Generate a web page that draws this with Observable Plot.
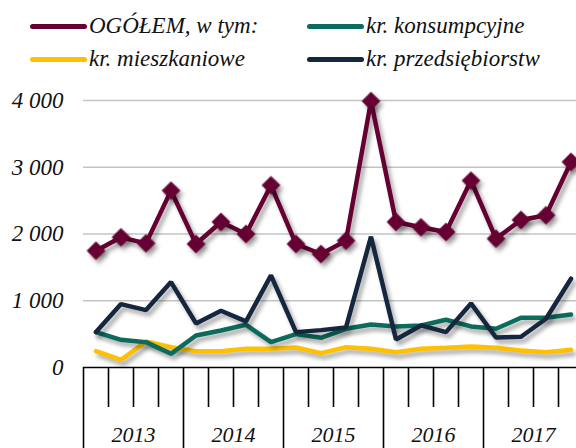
<!DOCTYPE html>
<html>
<head>
<meta charset="utf-8">
<script src="https://cdn.jsdelivr.net/npm/d3@7"></script>
<script src="https://cdn.jsdelivr.net/npm/@observablehq/plot@0.6"></script>
<style>
  html, body { margin: 0; padding: 0; background: #fff; }
  #wrap { width: 576px; height: 448px; overflow: hidden; position: relative; font-family: "Liberation Serif", "DejaVu Serif", serif; }
  #legend { position: relative; height: 80px; font-style: italic; font-size: 23px; line-height: 26px; color: #111; }
  .item { position: absolute; display: flex; align-items: center; white-space: nowrap; }
  .sw { width: 57px; height: 5px; border-radius: 3px; margin-right: 2px; }
</style>
</head>
<body>
<div id="wrap">
  <div id="legend"></div>
  <div id="chart"></div>
</div>
<script>
const years = ["2013", "2014", "2015", "2016", "2017"];
const seriesNames = ["OGÓŁEM, w tym:", "kr. konsumpcyjne", "kr. mieszkaniowe", "kr. przedsiębiorstw"];
const seriesColors = ["#660033", "#0B6B5C", "#FFC000", "#15263F"];
const ogolem = [1750, 1950, 1860, 2650, 1850, 2180, 2000, 2730, 1850, 1700, 1900, 3990, 2180, 2100, 2030, 2800, 1930, 2210, 2280, 3080];
const konsumpcyjne = [530, 415, 380, 205, 480, 555, 640, 380, 500, 445, 580, 645, 615, 630, 715, 615, 580, 745, 745, 795];
const mieszkaniowe = [245, 115, 390, 305, 245, 245, 280, 280, 300, 215, 305, 280, 230, 280, 295, 315, 295, 255, 230, 265];
const przedsiebiorstw = [530, 950, 860, 1280, 660, 850, 690, 1380, 530, 560, 600, 1960, 420, 630, 530, 960, 450, 460, 730, 1330];
const yTicks = [0, 1000, 2000, 3000, 4000];

// legend
const legendPos = [[30, 13], [307, 13], [30, 46], [307, 46]];
const legend = document.getElementById("legend");
seriesNames.forEach((n, k) => {
  const d = document.createElement("div");
  d.className = "item";
  d.style.left = legendPos[k][0] + "px";
  d.style.top = legendPos[k][1] + "px";
  d.innerHTML = `<span class="sw" style="background:${seriesColors[k]}"></span><span>${n}</span>`;
  legend.appendChild(d);
});

const toRows = arr => arr.map((v, i) => ({i, v}));
const yearCenters = years.map((y, k) => k * 4 + 1.5);
const quarterTicks = d3.range(20).filter(i => i % 4 !== 0).map(i => i - 0.5);
const yearTicks = d3.range(0, 24, 4).map(i => i - 0.5);

const lineOpts = (arr, c) => Plot.line(toRows(arr), {x: "i", y: "v", stroke: c, strokeWidth: 4.5, strokeLinejoin: "miter"});

const chart = Plot.plot({
  width: 576,
  height: 368,
  marginTop: 20, marginBottom: 81, marginLeft: 83, marginRight: 0,
  style: {fontFamily: "Liberation Serif, serif", fontStyle: "italic", fontSize: "22px", color: "#111", overflow: "hidden"},
  x: {domain: [-0.5, 19.5], range: [83, 583], label: null},
  y: {domain: [0, 4000], label: null},
  marks: [
    Plot.gridY([1000, 2000, 3000, 4000], {stroke: "#C4C4C4", strokeOpacity: 1, strokeWidth: 1.6}),
    Plot.axisY({ticks: yTicks, tickSize: 0, tickPadding: 20, label: null, tickFormat: d => d3.format(",")(d).replace(/,/g, " "), fontSize: 23}),
    Plot.axisX({ticks: quarterTicks, tickSize: 40, label: null, tickFormat: () => "", stroke: "#000", strokeWidth: 1.6}),
    Plot.axisX({ticks: yearTicks, tickSize: 81, label: null, tickFormat: () => "", stroke: "#000", strokeWidth: 1.6}),
    Plot.axisX({ticks: yearCenters, tickSize: 0, tickPadding: 59, label: null, tickFormat: d => years[(d - 1.5) / 4], fontSize: 22}),
    Plot.ruleY([0], {stroke: "#000", strokeWidth: 1.6}),
    lineOpts(mieszkaniowe, seriesColors[2]),
    lineOpts(konsumpcyjne, seriesColors[1]),
    lineOpts(przedsiebiorstw, seriesColors[3]),
    lineOpts(ogolem, seriesColors[0]),
    Plot.dot(toRows(ogolem), {x: "i", y: "v", symbol: "diamond2", r: 8, fill: seriesColors[0], stroke: seriesColors[0], strokeWidth: 1})
  ]
});
document.getElementById("chart").appendChild(chart);
d3.select(chart).selectAll('g[aria-label="line"], g[aria-label="dot"]')
  .style("filter", "drop-shadow(3px 4px 2px rgba(0,0,0,0.35))");
</script>
</body>
</html>
